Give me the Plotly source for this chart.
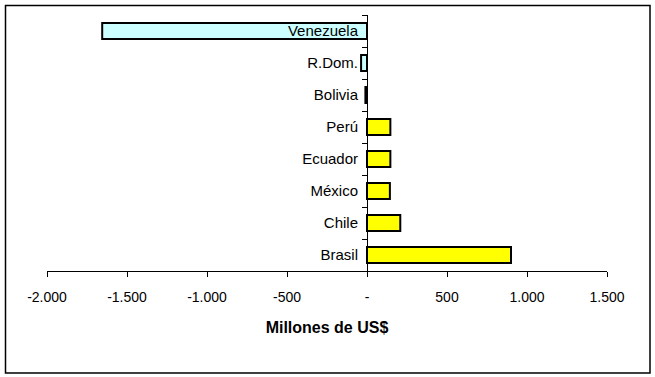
import plotly.graph_objects as go

categories = ["Brasil", "Chile", "México", "Ecuador", "Perú", "Bolivia", "R.Dom.", "Venezuela"]
values = [900, 208, 143, 146, 146, -10, -37, -1655]
tick_vals = [-2000, -1500, -1000, -500, 0, 500, 1000, 1500]
tick_text = ["-2.000", "-1.500", "-1.000", "-500", "-", "500", "1.000", "1.500"]

colors = ["#CCFFFF" if v < 0 else "#FFFF00" for v in values]

W, H = 655, 377
L, R, T, B = 47, 48, 15, 106
pw, ph = W - L - R, H - T - B

def px_to_paper_x(px):
    return (px - L) / pw

def px_to_paper_y(py):
    return (H - B - py) / ph

fig = go.Figure(go.Bar(
    x=values, y=categories, orientation="h",
    marker=dict(color=colors, line=dict(color="black", width=2)),
    hoverinfo="skip",
))

zero_pos = (0 - tick_vals[0]) / (tick_vals[-1] - tick_vals[0])

fig.update_layout(
    width=W, height=H,
    margin=dict(l=L, r=R, t=T, b=B, autoexpand=False),
    paper_bgcolor="white", plot_bgcolor="white",
    bargap=0.5,
    showlegend=False,
    font=dict(family="Liberation Sans, Arial, sans-serif", size=14, color="black"),
    xaxis=dict(
        range=[tick_vals[0], tick_vals[-1]],
        tickvals=tick_vals, ticktext=tick_text,
        showline=True, linecolor="black", linewidth=1,
        ticks="outside", ticklen=5, tickcolor="black", tickwidth=1,
        showgrid=False, zeroline=False,
        tickfont=dict(size=14),
        ticklabelstandoff=8,
        title=dict(text="<b>Millones de US$</b>", font=dict(size=16), standoff=18),
    ),
    yaxis=dict(
        type="category",
        categoryorder="array", categoryarray=categories,
        range=[-0.5, len(categories) - 0.5],
        anchor="free", position=zero_pos,
        showline=True, linecolor="black", linewidth=1,
        ticks="outside", ticklen=5, tickcolor="black", tickwidth=1,
        tickson="boundaries",
        showgrid=False, zeroline=False,
        tickfont=dict(size=15),
        ticklabelstandoff=6,
    ),
    shapes=[dict(
        type="rect", xref="paper", yref="paper",
        x0=px_to_paper_x(5.5), x1=px_to_paper_x(650),
        y0=px_to_paper_y(373), y1=px_to_paper_y(5.5),
        line=dict(color="black", width=1.5), fillcolor="rgba(0,0,0,0)",
        layer="above",
    )],
)

fig.write_html("out.html", config={"displayModeBar": False},
               post_script="document.body.style.margin='0';")
